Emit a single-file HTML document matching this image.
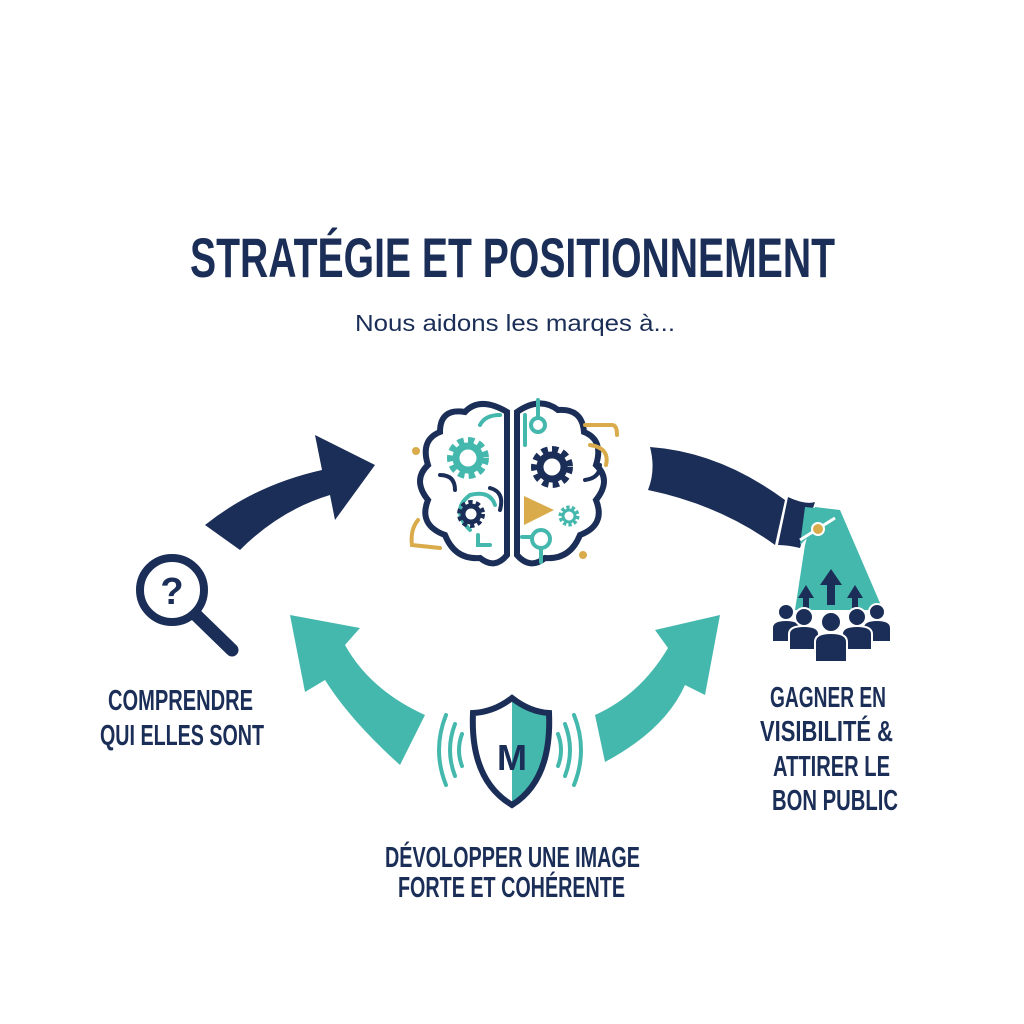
<!DOCTYPE html>
<html><head><meta charset="utf-8"><style>html,body{margin:0;padding:0;background:#fff}svg{display:block}</style></head>
<body>
<svg width="1024" height="1024" viewBox="0 0 1024 1024" xmlns="http://www.w3.org/2000/svg">
<rect width="1024" height="1024" fill="#fff"/>
<g font-family="Liberation Sans Narrow, Liberation Sans, sans-serif" font-weight="bold" fill="#1b2e57" lengthAdjust="spacingAndGlyphs">
<text x="190" y="277" font-size="56" textLength="645" lengthAdjust="spacingAndGlyphs">STRATÉGIE ET POSITIONNEMENT</text>
<text x="108" y="710" font-size="29" textLength="145" lengthAdjust="spacingAndGlyphs">COMPRENDRE</text>
<text x="100" y="745" font-size="29" textLength="164" lengthAdjust="spacingAndGlyphs">QUI ELLES SONT</text>
<text x="770" y="707" font-size="29" textLength="116" lengthAdjust="spacingAndGlyphs">GAGNER EN</text>
<text x="760" y="741" font-size="29" textLength="133" lengthAdjust="spacingAndGlyphs">VISIBILITÉ &amp;</text>
<text x="773" y="776" font-size="29" textLength="117" lengthAdjust="spacingAndGlyphs">ATTIRER LE</text>
<text x="772" y="810" font-size="29" textLength="126" lengthAdjust="spacingAndGlyphs">BON PUBLIC</text>
<text x="385" y="867" font-size="29" textLength="255" lengthAdjust="spacingAndGlyphs">DÉVOLOPPER UNE IMAGE</text>
<text x="398" y="897" font-size="29" textLength="227" lengthAdjust="spacingAndGlyphs">FORTE ET COHÉRENTE</text>
</g>
<text x="355" y="331" font-family="Liberation Sans, sans-serif" font-size="23" fill="#1b2e57" textLength="320" lengthAdjust="spacingAndGlyphs">Nous aidons les marqes à...</text>

<!-- top-left navy arrow -->
<path d="M205,525 Q255,485 322,470 L315,435 L375,465 L335,520 L330,495 Q280,510 240,550 Z" fill="#1b2e57"/>
<!-- top-right navy band -->
<path d="M650,447 Q720,452 785,500 L775,545 Q720,505 648,490 Q656,470 650,447 Z" fill="#1b2e57"/>
<path d="M788,497 Q805,505 815,502 L800,548 Q788,545 778,545 Z" fill="#1b2e57"/>
<path d="M815,507 L840,510 L883,610 L795,610 L805,545 Z" fill="#45b8ad"/>
<path d="M805,507 L836,510 L800,545 Z" fill="#45b8ad"/>
<line x1="800" y1="540" x2="835" y2="518" stroke="#fff" stroke-width="3"/>
<circle cx="818" cy="529" r="6" fill="#d9ab4a" stroke="#fff" stroke-width="2"/>
<!-- people & arrows -->
<g fill="#1b2e57">
<path d="M827,605 L827,585 L820,585 L831,569 L842,585 L835,585 L835,605 Z"/>
<path d="M803,610 L803,598 L798,598 L806,585 L814,598 L809,598 L809,610 Z"/>
<path d="M852,610 L852,598 L847,598 L855,585 L863,598 L858,598 L858,610 Z"/>
</g>
<g fill="#1b2e57" stroke="#fff" stroke-width="2">
<circle cx="786" cy="612" r="8"/><path d="M772,642 L772,628 Q772,620 786,620 Q800,620 800,628 L800,642 Z"/>
<circle cx="877" cy="612" r="8"/><path d="M863,642 L863,628 Q863,620 877,620 Q891,620 891,628 L891,642 Z"/>
<circle cx="804" cy="617" r="9"/><path d="M789,650 L789,634 Q789,626 804,626 Q819,626 819,634 L819,650 Z"/>
<circle cx="857" cy="617" r="9"/><path d="M842,650 L842,634 Q842,626 857,626 Q872,626 872,634 L872,650 Z"/>
<circle cx="831" cy="622" r="10"/><path d="M815,662 L815,642 Q815,633 831,633 Q847,633 847,642 L847,662 Z"/>
</g>
<!-- bottom-left teal arrow -->
<path d="M400,765 Q350,720 325,680 L305,692 L290,615 L360,628 L345,645 Q370,690 425,715 Z" fill="#45b8ad"/>
<!-- bottom-right teal arrow -->
<path d="M605,762 Q665,730 685,685 L705,695 L720,615 L655,630 L668,648 Q640,695 595,715 Z" fill="#45b8ad"/>
<!-- magnifier -->
<line x1="196" y1="615" x2="232" y2="650" stroke="#1b2e57" stroke-width="13" stroke-linecap="round"/>
<circle cx="172" cy="590" r="32" fill="#fff" stroke="#1b2e57" stroke-width="8"/>
<text x="172" y="604" text-anchor="middle" font-family="Liberation Sans, sans-serif" font-weight="bold" font-size="38" fill="#1b2e57">?</text>
<!-- shield -->
<g fill="none" stroke="#45b8ad" stroke-width="4" stroke-linecap="round">
<path d="M446,715 Q432,750 446,785"/><path d="M455,724 Q445,750 455,776"/><path d="M462,734 Q456,750 462,766"/>
<path d="M574,715 Q588,750 574,785"/><path d="M565,724 Q575,750 565,776"/><path d="M558,734 Q564,750 558,766"/>
</g>
<path d="M512,698 Q530,712 549,713 Q552,780 512,805 Z" fill="#45b8ad"/>
<path d="M512,698 Q494,712 473,713 Q470,780 512,805 Q552,780 549,713 Q530,712 512,698 Z" fill="none" stroke="#1b2e57" stroke-width="6"/>
<text x="512" y="770" text-anchor="middle" font-family="Liberation Sans, sans-serif" font-weight="bold" font-size="36" fill="#1b2e57">M</text>
<!-- brain -->
<g fill="none" stroke-width="6" stroke-linecap="round">
<path d="M507,412 Q480,396 465,412 Q440,408 440,432 Q420,440 428,465 Q412,480 428,500 Q418,525 445,535 Q455,560 480,558 Q495,570 507,555 Z" stroke="#1b2e57"/>
<path d="M517,412 Q540,396 558,410 Q582,408 584,432 Q604,440 596,465 Q612,480 596,500 Q606,525 580,535 Q570,560 545,558 Q530,570 517,555 Z" stroke="#1b2e57"/>
<path d="M440,475 Q455,475 455,490" stroke="#1b2e57" stroke-width="4"/>
<path d="M490,488 Q505,492 500,510" stroke="#1b2e57" stroke-width="4"/>
<path d="M585,480 Q600,478 600,465" stroke="#1b2e57" stroke-width="4"/>
<path d="M480,425 Q485,415 500,415" stroke="#45b8ad" stroke-width="4"/>
<path d="M470,530 Q450,510 470,495 Q490,490 495,505" stroke="#45b8ad" stroke-width="4"/>
<path d="M478,535 L478,545 L490,545" stroke="#45b8ad" stroke-width="4"/>
<path d="M538,400 L538,418 M525,415 L525,445" stroke="#45b8ad" stroke-width="4"/>
<circle cx="538" cy="425" r="7" stroke="#45b8ad" stroke-width="4"/>
<circle cx="541" cy="539" r="9" stroke="#45b8ad" stroke-width="4"/>
<path d="M541,548 L541,562 M522,537 L532,537" stroke="#45b8ad" stroke-width="4"/>
<path d="M585,425 L612,425 Q617,425 617,435" stroke="#d9ab4a" stroke-width="4"/>
<path d="M590,445 Q610,448 606,465" stroke="#d9ab4a" stroke-width="4"/>
<path d="M418,520 Q410,530 412,545 L440,548" stroke="#d9ab4a" stroke-width="4"/>
</g>
<circle cx="416" cy="451" r="4" fill="#d9ab4a"/>
<circle cx="583" cy="555" r="4" fill="#d9ab4a"/>
<g>
<circle cx="468" cy="458" r="17" fill="none" stroke="#45b8ad" stroke-width="8" stroke-dasharray="6 4"/>
<circle cx="468" cy="458" r="12" fill="none" stroke="#45b8ad" stroke-width="7"/>
<circle cx="552" cy="467" r="17" fill="none" stroke="#1b2e57" stroke-width="8" stroke-dasharray="6 4"/>
<circle cx="552" cy="467" r="12" fill="none" stroke="#1b2e57" stroke-width="7"/>
<circle cx="471" cy="514" r="11" fill="none" stroke="#1b2e57" stroke-width="6" stroke-dasharray="4 3"/>
<circle cx="471" cy="514" r="8" fill="none" stroke="#1b2e57" stroke-width="5"/>
<circle cx="569" cy="516" r="8" fill="none" stroke="#45b8ad" stroke-width="5" stroke-dasharray="3 2"/>
<circle cx="569" cy="516" r="6" fill="none" stroke="#45b8ad" stroke-width="3"/>
<path d="M524,496 L554,510 L524,525 Z" fill="#d9ab4a"/>
</g>
</svg>
</body></html>
